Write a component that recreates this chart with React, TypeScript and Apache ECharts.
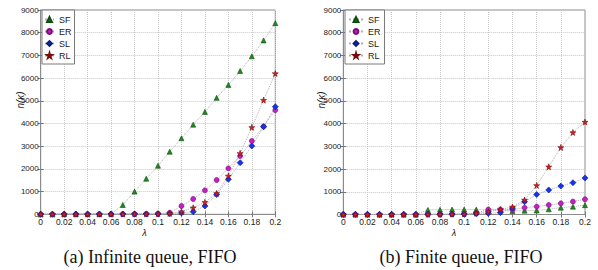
import React, { useEffect, useRef } from "react";
import * as echarts from "echarts";

const lambdas = [0, 0.01, 0.02, 0.03, 0.04, 0.05, 0.06, 0.07, 0.08, 0.09, 0.1, 0.11, 0.12, 0.13, 0.14, 0.15, 0.16, 0.17, 0.18, 0.19, 0.2];
const seriesNames = ["SF", "ER", "SL", "RL"];

// (a) Infinite queue, FIFO
const infSF = [5, 8, 10, 12, 15, 18, 25, 410, 1000, 1570, 2140, 2760, 3350, 3950, 4510, 5130, 5700, 6310, 6960, 7660, 8420];
const infER = [3, 4, 5, 6, 7, 8, 10, 12, 15, 20, 30, 70, 365, 675, 1055, 1510, 2025, 2570, 3230, 3870, 4590];
const infSL = [2, 3, 4, 5, 6, 7, 8, 9, 10, 12, 15, 20, 60, 115, 365, 870, 1540, 2275, 3010, 3860, 4740];
const infRL = [2, 3, 4, 5, 6, 7, 8, 10, 12, 15, 20, 40, 120, 290, 528, 920, 1690, 2685, 3830, 5030, 6200];

// (b) Finite queue, FIFO
const finSF = [5, 5, 5, 5, 5, 5, 5, 200, 210, 220, 220, 215, 210, 200, 150, 170, 180, 230, 300, 345, 410];
const finER = [3, 3, 3, 3, 3, 3, 3, 10, 10, 15, 20, 60, 220, 220, 210, 300, 350, 420, 490, 570, 670];
const finSL = [2, 2, 2, 2, 2, 2, 2, 5, 5, 10, 15, 30, 50, 80, 280, 560, 880, 1080, 1250, 1400, 1610];
const finRL = [3, 3, 3, 3, 3, 3, 3, 10, 15, 20, 30, 60, 120, 220, 330, 640, 1280, 2100, 2950, 3610, 4070];

const captions = ["(a) Infinite queue, FIFO", "(b) Finite queue, FIFO"];
const yName = "n(κ)";
const xName = "λ";

const SANS = "'Liberation Sans', Arial, sans-serif";
const STAR = "path://M50,0 L61,35 L98,35 L68,57 L79,91 L50,70 L21,91 L32,57 L2,35 L39,35 Z";

const styles: Record<string, any> = {
  SF: { symbol: "triangle", color: "#1f8a1f", border: "#0b4d0b", size: 5 },
  ER: { symbol: "circle", color: "#c41ec4", border: "#7a0a7a", size: 5 },
  SL: { symbol: "diamond", color: "#1432f0", border: "#0a1a80", size: 6 },
  RL: { symbol: STAR, color: "#d42020", border: "#7a0a0a", size: 6 },
};

export default function App() {
  const ref = useRef<HTMLDivElement>(null);
  useEffect(() => {
    if (!ref.current) return;
    const chart = echarts.init(ref.current, null, { renderer: "svg" });
    const grids = [
      { left: 40.7, top: 10, width: 234.6, height: 204.3 },
      { left: 343.3, top: 10, width: 241.7, height: 204.5 },
    ];
    const fmtX = (v: number) => String(parseFloat(v.toFixed(2)));
    const fmtY = (v: number) => String(Math.round(v));
    const xAxes: any[] = [];
    const yAxes: any[] = [];
    grids.forEach((_, gi) => {
      xAxes.push({
        type: "value", gridIndex: gi, min: 0, max: 0.2, interval: 0.02, position: "bottom",
        axisLine: { show: true, lineStyle: { color: "#8c8c8c" } },
        axisTick: { show: true, inside: true, length: 3, lineStyle: { color: "#777" } },
        axisLabel: { margin: 3, fontSize: 8.5, fontFamily: SANS, color: "#222", formatter: fmtX },
        splitLine: { show: true, lineStyle: { type: "dotted", color: "#c8c8c8" } },
      });
      yAxes.push({
        type: "value", gridIndex: gi, min: 0, max: 9000, interval: 1000, position: "left",
        axisLine: { show: true, lineStyle: { color: "#8c8c8c" } },
        axisTick: { show: true, inside: true, length: 3, lineStyle: { color: "#777" } },
        axisLabel: { margin: 2, fontSize: 8, fontFamily: SANS, color: "#222", formatter: fmtY },
        splitLine: { show: true, lineStyle: { type: "dotted", color: "#c8c8c8" } },
      });
    });
    grids.forEach((_, gi) => {
      xAxes.push({
        type: "value", gridIndex: gi, min: 0, max: 0.2, interval: 0.02, position: "top",
        axisLine: { show: false }, axisLabel: { show: false }, splitLine: { show: false },
        axisTick: { show: true, inside: true, length: 3, lineStyle: { color: "#777" } },
      });
      yAxes.push({
        type: "value", gridIndex: gi, min: 0, max: 9000, interval: 1000, position: "right",
        axisLine: { show: false }, axisLabel: { show: false }, splitLine: { show: false },
        axisTick: { show: true, inside: true, length: 3, lineStyle: { color: "#777" } },
      });
    });

    const dataSets = [
      { SF: infSF, ER: infER, SL: infSL, RL: infRL },
      { SF: finSF, ER: finER, SL: finSL, RL: finRL },
    ] as Record<string, number[]>[];

    const series: any[] = [];
    dataSets.forEach((ds, gi) => {
      seriesNames.forEach((name) => {
        const st = styles[name];
        series.push({
          name, type: "line", xAxisIndex: gi, yAxisIndex: gi,
          data: lambdas.map((x, i) => [x, ds[name][i]]),
          symbol: st.symbol, symbolSize: st.size, showSymbol: true,
          lineStyle: { type: "dotted", color: "#b0b0b0", width: 1 },
          itemStyle: { color: st.color, borderColor: st.border, borderWidth: 0.6 },
          emphasis: { disabled: true },
        });
      });
    });

    const legendBase = {
      orient: "vertical", top: 10, data: seriesNames,
      itemHeight: 6, itemGap: 3,
      borderColor: "#7a7a7a", borderWidth: 1, backgroundColor: "#fff",
      textStyle: { fontSize: 9, fontFamily: SANS, color: "#222" },
      selectedMode: false,
    };

    const graphic: any[] = [];
    [150, 461].forEach((cx, gi) => {
      graphic.push({
        type: "text", x: cx, y: 257,
        style: { text: captions[gi], fontFamily: "'Liberation Serif', 'Times New Roman', serif", fontSize: 18, fill: "#111", textAlign: "center", textVerticalAlign: "middle" },
      });
    });
    [[20, 100], [321, 100]].forEach(([x, y]) => {
      graphic.push({
        type: "text", x, y, rotation: Math.PI / 2,
        style: { text: yName, fontFamily: SANS, fontStyle: "italic", fontSize: 10, fill: "#222", textAlign: "center", textVerticalAlign: "middle" },
      });
    });
    [[144.5, 233], [454, 233]].forEach(([x, y]) => {
      graphic.push({
        type: "text", x, y,
        style: { text: xName, fontFamily: SANS, fontStyle: "italic", fontSize: 9, fill: "#222", textAlign: "center", textVerticalAlign: "middle" },
      });
    });

    chart.setOption({
      animation: false,
      backgroundColor: "#fff",
      grid: grids.map((g) => ({ ...g, show: true, borderColor: "#8c8c8c", borderWidth: 1, backgroundColor: "#fff" })),
      xAxis: xAxes,
      yAxis: yAxes,
      legend: [
        { ...legendBase, left: 42, itemWidth: 9, padding: [5, 3, 4, 2] },
        { ...legendBase, left: 345, itemWidth: 14, padding: [5, 4, 4, 3] },
      ],
      series,
      graphic,
    });
    return () => chart.dispose();
  }, []);
  return <div ref={ref} style={{ position: "fixed", left: 0, top: 0, width: 598, height: 270 }} />;
}
